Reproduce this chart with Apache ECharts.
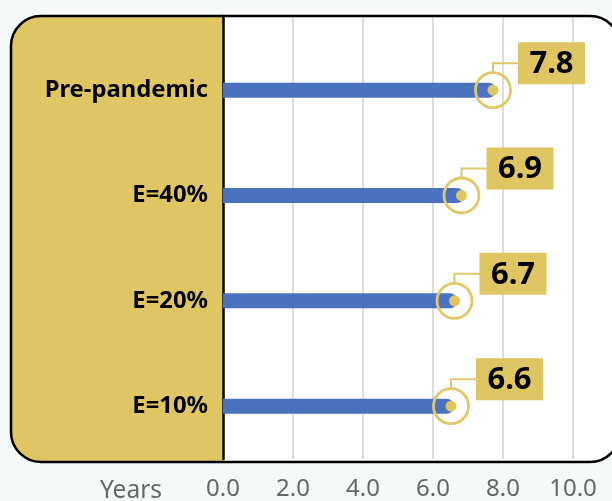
<!DOCTYPE html>
<html><head><meta charset="utf-8">
<script src="https://cdn.jsdelivr.net/npm/echarts@6/dist/echarts.min.js"></script>
<style>html,body{margin:0;padding:0;background:#f4f9f9;}#c{width:612px;height:501px;}</style>
</head><body><div id="c"></div>
<script>
const categories = ['Pre-pandemic', 'E=40%', 'E=20%', 'E=10%'];
const values = [7.8, 6.9, 6.7, 6.6];
const xTicks = [0, 2, 4, 6, 8, 10];
const axisName = 'Years';

const YELLOW = '#dfc662';
const BLUE = '#4b72bf';
const FONT = '"Noto Sans", "Open Sans", sans-serif';

const chart = echarts.init(document.getElementById('c'), null, {renderer: 'canvas'});

const annData = values.map((v, i) => [v, i]);

chart.setOption({
  backgroundColor: '#f4f9f9',
  animation: false,
  graphic: [
    {type: 'rect', z: -20, silent: true, shape: {x: 11, y: 16, width: 609, height: 446, r: 30}, style: {fill: '#ffffff'}},
    {type: 'rect', z: -19, silent: true, shape: {x: 11, y: 16, width: 212, height: 446, r: [30, 0, 0, 30]}, style: {fill: YELLOW}},
    {type: 'rect', z: 100, silent: true, shape: {x: 11, y: 16, width: 609, height: 446, r: 30}, style: {fill: null, stroke: '#000', lineWidth: 2.5}},
    {type: 'text', z: 100, silent: true, x: 162, y: 491, style: {text: axisName, font: '24.5px ' + FONT, fill: '#666666', align: 'right', verticalAlign: 'middle'}}
  ],
  grid: [
    {left: 223, right: 39, top: 16, bottom: 39},
    {left: 223, right: 39, top: 37.5, bottom: 42.2}
  ],
  xAxis: [
    {gridIndex: 0, type: 'value', min: xTicks[0], max: xTicks[xTicks.length - 1], interval: 2,
     axisLine: {show: false}, axisTick: {show: false},
     splitLine: {show: true, lineStyle: {color: '#d2d2d2', width: 1.5}},
     axisLabel: {formatter: v => v.toFixed(1), color: '#666666', fontSize: 24, fontFamily: FONT, margin: 18}},
    {gridIndex: 1, type: 'value', min: 0, max: 10, show: false}
  ],
  yAxis: [
    {gridIndex: 0, type: 'value', min: 0, max: 1,
     axisLine: {show: true, onZero: false, lineStyle: {color: '#000', width: 2.5}},
     axisTick: {show: false}, axisLabel: {show: false}, splitLine: {show: false}},
    {gridIndex: 1, type: 'category', data: categories, inverse: true,
     axisLine: {show: false}, axisTick: {show: false}, splitLine: {show: false},
     axisLabel: {color: '#000', fontSize: 23.8, fontWeight: 'bold', fontFamily: FONT, margin: 15}}
  ],
  series: [
    {type: 'bar', xAxisIndex: 1, yAxisIndex: 1, data: values, barWidth: 15,
     itemStyle: {color: BLUE, borderRadius: [0, 7.5, 7.5, 0]}, z: 3},
    {type: 'custom', xAxisIndex: 1, yAxisIndex: 1, data: annData, clip: false, z: 5,
     encode: {x: 0, y: 1},
     renderItem: function (params, api) {
       const p = api.coord([api.value(0), api.value(1)]);
       const cx = p[0] - 3, cy = p[1];
       const r = 17.5;
       const label = api.value(0).toFixed(1);
       return {
         type: 'group',
         children: [
           {type: 'circle', shape: {cx: cx, cy: cy, r: 5.5}, style: {fill: YELLOW}},
           {type: 'circle', shape: {cx: cx, cy: cy, r: r}, style: {fill: null, stroke: '#e2c868', lineWidth: 2.8}},
           {type: 'polyline', shape: {points: [[cx, cy - r], [cx, cy - 27], [cx + 26, cy - 27]]}, style: {fill: null, stroke: '#e2c868', lineWidth: 2}},
           {type: 'rect', shape: {x: cx + 25, y: cy - 48, width: 67, height: 42}, style: {fill: YELLOW}},
           {type: 'text', x: cx + 58.5, y: cy - 26, style: {text: label, font: 'bold 31px ' + FONT, fill: '#000', align: 'center', verticalAlign: 'middle'}}
         ]
       };
     }}
  ]
});
</script></body></html>
